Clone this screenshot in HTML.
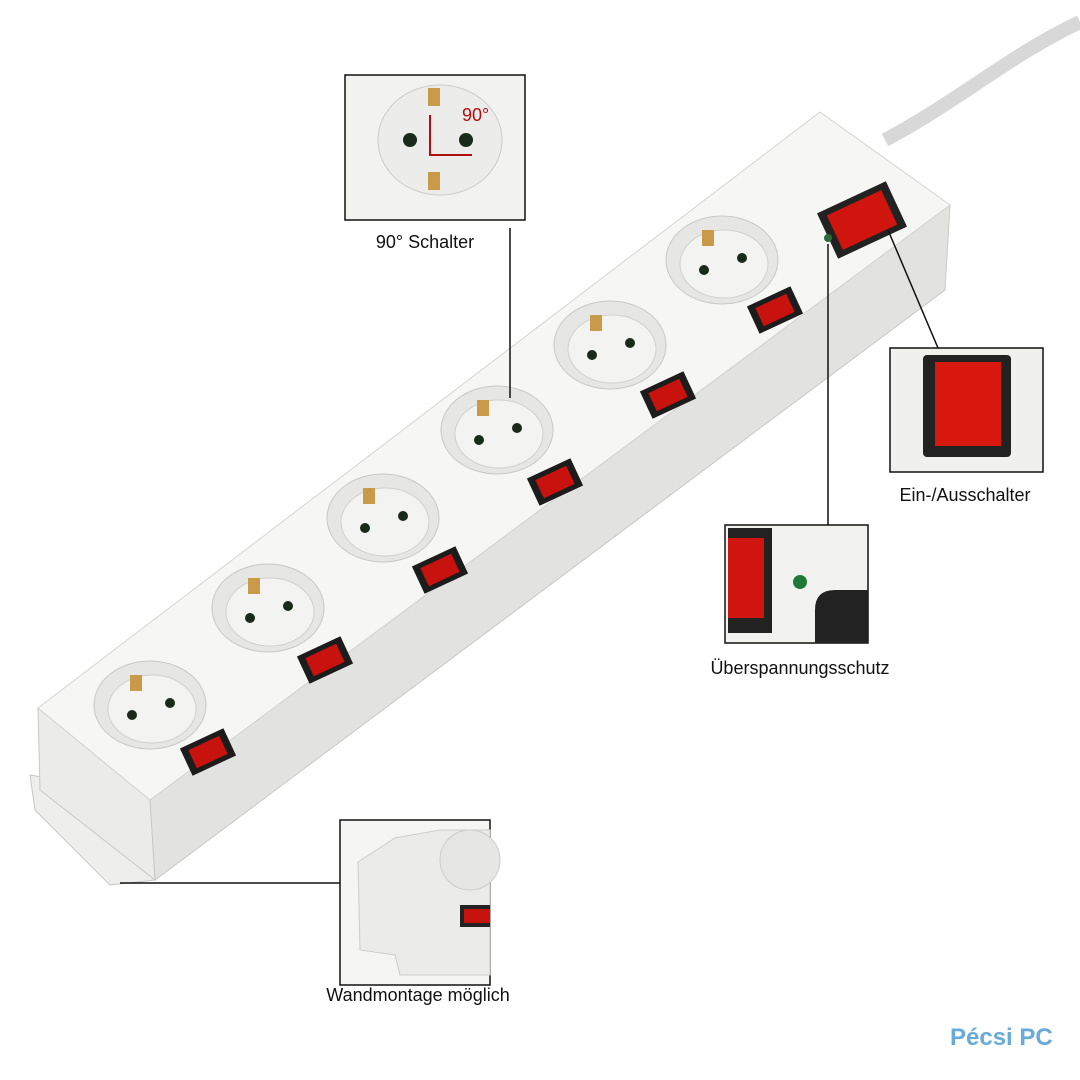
<!DOCTYPE html>
<html><head><meta charset="utf-8"><style>
body{margin:0;background:#fff}
svg{display:block}
text{font-family:"Liberation Sans",sans-serif}
</style></head><body>
<svg width="1080" height="1080" viewBox="0 0 1080 1080" xmlns="http://www.w3.org/2000/svg">
<defs>
<g id="sock">
<ellipse cx="0" cy="0" rx="56" ry="44" fill="#e6e6e4" stroke="#c8c8c6"/>
<ellipse cx="2" cy="4" rx="44" ry="34" fill="#f3f3f1" stroke="#d0d0ce"/>
<rect x="-20" y="-30" width="12" height="16" fill="#c89a4a"/>
<circle cx="-18" cy="10" r="5" fill="#1a2a1a"/>
<circle cx="20" cy="-2" r="5" fill="#1a2a1a"/>
</g>
<g id="sw">
<rect x="-24" y="-15" width="48" height="30" fill="#1c1c1c"/>
<rect x="-17" y="-10" width="34" height="20" fill="#c8120e"/>
</g>
</defs>
<path d="M885 140 C 960 100, 1010 55, 1080 22" stroke="#d8d8d8" stroke-width="14" fill="none"/>
<polygon points="30,775 120,790 155,880 110,885 35,810" fill="#eeeeec" stroke="#c8c8c6"/>
<polygon points="150,800 950,205 945,290 155,880" fill="#e2e2e0" stroke="#c8c8c6"/>
<polygon points="38,708 150,800 155,880 40,790" fill="#ebebe9" stroke="#c8c8c6"/>
<polygon points="38,708 820,112 950,205 150,800" fill="#f6f6f4" stroke="#d4d4d2"/>
<use href="#sock" x="150" y="705"/>
<use href="#sock" x="268" y="608"/>
<use href="#sock" x="383" y="518"/>
<use href="#sock" x="497" y="430"/>
<use href="#sock" x="610" y="345"/>
<use href="#sock" x="722" y="260"/>
<g transform="translate(208,752) rotate(-25)"><use href="#sw"/></g>
<g transform="translate(325,660) rotate(-25)"><use href="#sw"/></g>
<g transform="translate(440,570) rotate(-25)"><use href="#sw"/></g>
<g transform="translate(555,482) rotate(-25)"><use href="#sw"/></g>
<g transform="translate(668,395) rotate(-25)"><use href="#sw"/></g>
<g transform="translate(775,310) rotate(-25)"><use href="#sw"/></g>
<g transform="translate(862,220) rotate(-25)"><rect x="-38" y="-25" width="76" height="50" fill="#222"/><rect x="-30" y="-19" width="60" height="38" fill="#d0150f"/></g>
<circle cx="828" cy="238" r="4" fill="#2a6a3a"/>
<g stroke="#111" stroke-width="1.5" fill="none">
<line x1="510" y1="228" x2="510" y2="398"/>
<line x1="828" y1="244" x2="828" y2="525"/>
<line x1="888" y1="230" x2="938" y2="348"/>
<line x1="120" y1="883" x2="340" y2="883"/>
</g>
<rect x="345" y="75" width="180" height="145" fill="#f2f2f0" stroke="#111" stroke-width="1.5"/>
<ellipse cx="440" cy="140" rx="62" ry="55" fill="#ececea" stroke="#ccc"/>
<rect x="428" y="88" width="12" height="18" fill="#c89a4a"/>
<rect x="428" y="172" width="12" height="18" fill="#c89a4a"/>
<circle cx="410" cy="140" r="7" fill="#1a2a1a"/><circle cx="466" cy="140" r="7" fill="#1a2a1a"/>
<path d="M430 115 V155 H472" stroke="#b01010" stroke-width="2" fill="none"/>
<text x="462" y="121" font-size="18" fill="#b01010">90°</text>
<rect x="890" y="348" width="153" height="124" fill="#f0f0ee" stroke="#111" stroke-width="1.5"/>
<rect x="923" y="355" width="88" height="102" rx="4" fill="#222"/>
<rect x="935" y="362" width="66" height="84" fill="#d8170f"/>
<rect x="725" y="525" width="143" height="118" fill="#f2f2f0" stroke="#111" stroke-width="1.5"/>
<rect x="728" y="528" width="44" height="105" fill="#222"/><rect x="728" y="538" width="36" height="80" fill="#d0150f"/>
<circle cx="800" cy="582" r="7" fill="#1f7a3a"/>
<path d="M815 643 V610 Q815 590 835 590 H868 V643 Z" fill="#222"/>
<rect x="340" y="820" width="150" height="165" fill="#f5f5f3" stroke="#111" stroke-width="1.5"/>
<polygon points="358,862 395,838 440,830 490,830 490,975 400,975 395,955 360,950" fill="#ebebe9" stroke="#ccc"/>
<ellipse cx="470" cy="860" rx="30" ry="30" fill="#e6e6e4" stroke="#ccc"/>
<rect x="460" y="905" width="30" height="22" fill="#222"/><rect x="464" y="909" width="26" height="14" fill="#c8120e"/>
<g font-size="18" fill="#111" text-anchor="middle">
<text x="425" y="248">90° Schalter</text>
<text x="965" y="501">Ein-/Ausschalter</text>
<text x="800" y="674">Überspannungsschutz</text>
<text x="418" y="1001">Wandmontage möglich</text>
</g>
<text x="950" y="1045" font-size="24" fill="#6aaad8" font-weight="bold">Pécsi PC</text>
</svg>
</body></html>
